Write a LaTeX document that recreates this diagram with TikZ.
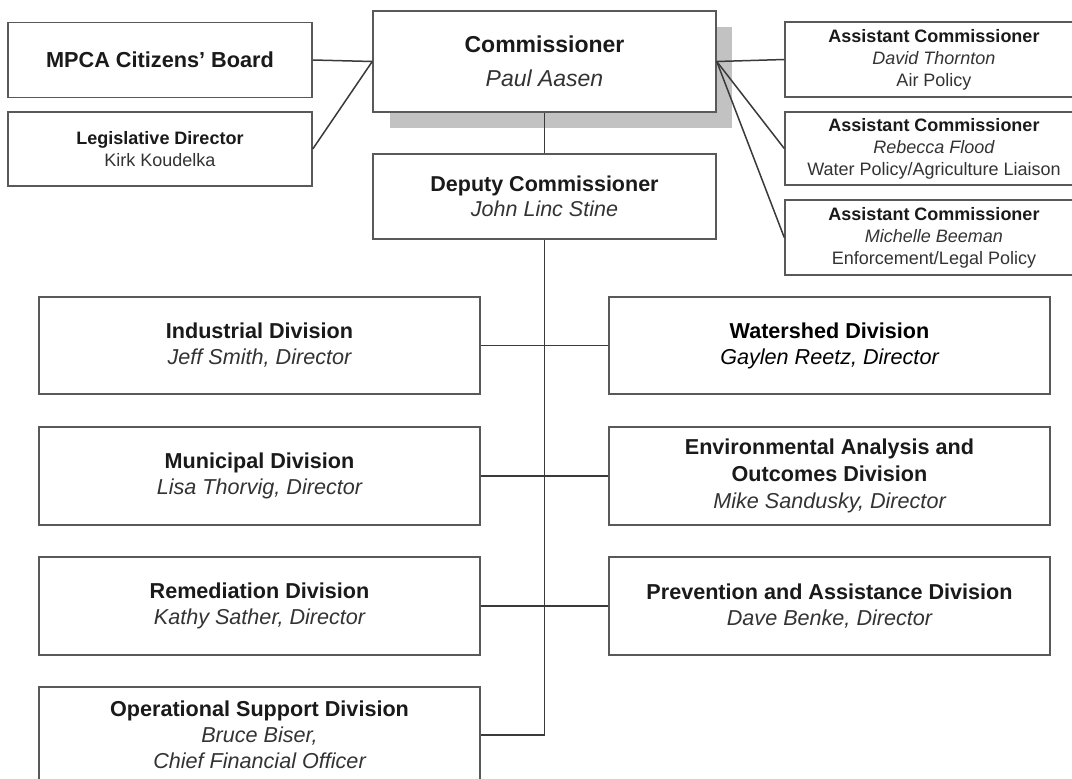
\documentclass[tikz,border=0pt]{standalone}
\usepackage{fontspec}
\setmainfont{Liberation Sans}
\definecolor{boxline}{HTML}{595959}
\definecolor{linecol}{HTML}{3A3A3A}
\definecolor{shadowcol}{HTML}{C2C2C2}
\definecolor{namecol}{HTML}{333333}
\definecolor{titlecol}{HTML}{1A1A1A}
\newcommand\persname[1]{\textcolor{namecol}{\itshape #1}}
\newcommand\boxtitle[1]{\textcolor{titlecol}{\bfseries #1}}
\newcommand\plainline[1]{\textcolor{namecol}{#1}}
\begin{document}
\begin{tikzpicture}[x=1pt,y=-1pt,
  box/.style={draw=boxline, line width=1.5pt, fill=white, rectangle, inner sep=0pt, align=center},
  smallbox/.style={box, minimum width=304pt, font=\fontsize{18}{22}\selectfont},
  asstbox/.style={box, minimum width=298pt, font=\fontsize{18}{22}\selectfont},
  topbox/.style={box, minimum width=343pt},
  divbox/.style={box, minimum width=441pt, minimum height=97pt, font=\fontsize{21.6}{26}\selectfont},
  link/.style={draw=linecol, line width=1.5pt}]
\fill[white] (0,0) rectangle (1072,779);
\useasboundingbox (0,0) rectangle (1072,779);

% left upper boxes
\node[smallbox, minimum height=75pt, font=\fontsize{21.7}{26}\selectfont] (cb) at (160,60) {\boxtitle{MPCA Citizens' Board}};
\node[smallbox, minimum height=74pt] (leg) at (160,149) {\boxtitle{Legislative Director}\\\plainline{Kirk Koudelka}};

% commissioner with shadow
\fill[shadowcol] (390,27) rectangle (732,128);
\node[topbox, minimum height=101pt, font=\fontsize{23}{34}\selectfont] (comm) at (544.5,61.5) {\boxtitle{Commissioner}\\\persname{Paul Aasen}};
\node[topbox, minimum height=85pt, font=\fontsize{21.5}{25}\selectfont] (dep) at (544.5,196.5) {\boxtitle{Deputy Commissioner}\\\persname{John Linc Stine}};

% assistant commissioners
\node[asstbox, minimum height=75pt] (a1) at (934,59.5) {\boxtitle{Assistant Commissioner}\\\persname{David Thornton}\\\plainline{Air Policy}};
\node[asstbox, minimum height=73pt] (a2) at (934,148.5) {\boxtitle{Assistant Commissioner}\\\persname{Rebecca Flood}\\\plainline{Water Policy/Agriculture Liaison}};
\node[asstbox, minimum height=75pt] (a3) at (934,237.5) {\boxtitle{Assistant Commissioner}\\\persname{Michelle Beeman}\\\plainline{Enforcement/Legal Policy}};

% divisions left
\node[divbox] (ind) at (259.5,345.5) {\boxtitle{Industrial Division}\\\persname{Jeff Smith, Director}};
\node[divbox, minimum height=98pt] (mun) at (259.5,476) {\boxtitle{Municipal Division}\\\persname{Lisa Thorvig, Director}};
\node[divbox, minimum height=98pt] (rem) at (259.5,606) {\boxtitle{Remediation Division}\\\persname{Kathy Sather, Director}};
\node[divbox, minimum height=96pt] (ops) at (259.5,735) {\boxtitle{Operational Support Division}\\\persname{Bruce Biser,}\\\persname{Chief Financial Officer}};

% divisions right
\node[divbox] (wat) at (829.5,345.5) {\textcolor{black}{\bfseries Watershed Division}\\\textcolor{black}{\itshape Gaylen Reetz, Director}};
\node[divbox, minimum height=98pt, font=\fontsize{21.6}{27}\selectfont] (env) at (829.5,476) {\boxtitle{Environmental Analysis and}\\\boxtitle{Outcomes Division}\\\persname{Mike Sandusky, Director}};
\node[divbox, minimum height=98pt] (prev) at (829.5,606) {\boxtitle{Prevention and Assistance Division}\\\persname{Dave Benke, Director}};

% connectors
\draw[link] (cb.east) -- (comm.west);
\draw[link] (leg.east) -- (comm.west);
\draw[link] (comm.east) -- (a1.west);
\draw[link] (comm.east) -- (a2.west);
\draw[link] (comm.east) -- (a3.west);
\draw[link] (comm.south) -- (dep.north);
\draw[link] (dep.south) |- (ops.east);
\draw[link] (ind.east) -- (wat.west);
\draw[link] (mun.east) -- (env.west);
\draw[link] (rem.east) -- (prev.west);
\end{tikzpicture}
\end{document}
